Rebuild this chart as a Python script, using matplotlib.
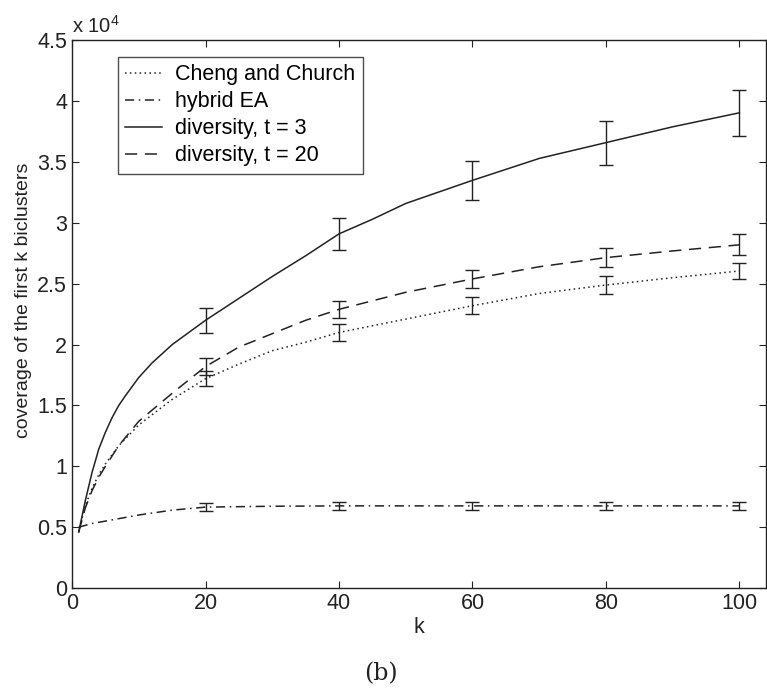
import numpy as np
import matplotlib
matplotlib.use('Agg')
import matplotlib.pyplot as plt
from matplotlib.ticker import FormatStrFormatter

plt.rcParams['font.family'] = ['Liberation Sans', 'DejaVu Sans']

# Coverage values (units of 1e4)
k_cc = [1, 2, 3, 4, 5, 7, 10, 15, 20, 25, 30, 35, 40, 50, 60, 70, 80, 90, 100]
cheng = [0.46, 0.68, 0.82, 0.93, 1.02, 1.17, 1.34, 1.55, 1.72, 1.84, 1.95,
         2.02, 2.10, 2.21, 2.32, 2.42, 2.49, 2.55, 2.605]

k_ea = [1, 3, 5, 10, 15, 20, 30, 40, 60, 80, 100]
hybrid = [0.50, 0.53, 0.55, 0.60, 0.64, 0.665, 0.672, 0.675, 0.675, 0.675, 0.675]

k_d3 = [1, 2, 3, 4, 5, 6, 7, 8, 10, 12, 15, 20, 25, 30, 35, 40, 45, 50, 60,
        70, 80, 90, 100]
div3 = [0.46, 0.72, 0.95, 1.14, 1.28, 1.40, 1.5, 1.58, 1.73, 1.85, 2.0, 2.2,
        2.38, 2.56, 2.73, 2.91, 3.03, 3.16, 3.35, 3.53, 3.66, 3.79, 3.905]

k_d20 = [1, 2, 3, 4, 5, 7, 10, 15, 20, 25, 30, 35, 40, 45, 50, 60, 70, 80,
         90, 100]
div20 = [0.46, 0.66, 0.8, 0.91, 1.0, 1.17, 1.37, 1.6, 1.82, 1.98, 2.09, 2.20,
         2.29, 2.36, 2.43, 2.54, 2.64, 2.715, 2.77, 2.82]

# error bars at k = 20, 40, ..., 100 (half widths)
k_err = [20, 40, 60, 80, 100]
err_cheng = [0.06, 0.07, 0.07, 0.07, 0.065]
err_hybrid = [0.03, 0.03, 0.03, 0.03, 0.03]
err_div3 = [0.105, 0.13, 0.16, 0.18, 0.19]
err_div20 = [0.07, 0.07, 0.075, 0.08, 0.085]

c = '#222222'
fig = plt.figure(figsize=(7.67, 6.88), dpi=100)
ax = fig.add_axes([0.0939, 0.1453, 0.905, 0.796])

series = [
    (k_cc, cheng, err_cheng, (0, (1, 2.2)), 'Cheng and Church'),
    (k_ea, hybrid, err_hybrid, (0, (6, 3, 1, 3)), 'hybrid EA'),
    (k_d3, div3, err_div3, '-', 'diversity, t = 3'),
    (k_d20, div20, err_div20, (0, (8, 5)), 'diversity, t = 20'),
]
for k, v, e, ls, lab in series:
    ax.plot(k, v, color=c, lw=1.1, linestyle=ls, label=lab)
    k = np.array(k)
    v = np.array(v)
    ax.errorbar(k_err, v[np.isin(k, k_err)], yerr=e, fmt='none',
                ecolor=c, elinewidth=1.0, capsize=5, capthick=1.0)

ax.set_xlim(0, 104)
ax.set_ylim(0, 4.5)
ax.set_xticks([0, 20, 40, 60, 80, 100])
ax.set_yticks(np.arange(0, 4.51, 0.5))
ax.yaxis.set_major_formatter(FormatStrFormatter('%g'))
ax.tick_params(direction='in', top=True, right=True, labelsize=15.5,
               length=5, width=0.8, colors=c)
for s in ax.spines.values():
    s.set_linewidth(1.0)
    s.set_color(c)

ax.set_xlabel('k', fontsize=15.5, color=c)
ax.xaxis.set_label_coords(0.5, -0.052)
ax.set_ylabel('coverage of the first k biclusters', fontsize=14, color=c)
ax.yaxis.set_label_coords(-0.0576, 0.526)
ax.text(0.0, 1.006, r'x 10$^{\mathregular{4}}$', transform=ax.transAxes,
        fontsize=14.5, color=c, ha='left', va='bottom')

leg = ax.legend(loc='upper left', bbox_to_anchor=(0.066, 0.970), fontsize=15.5,
                frameon=True, fancybox=False, edgecolor=c, handlelength=1.72,
                labelspacing=0.28, borderpad=0.35, handletextpad=0.6,
                borderaxespad=0)
leg.get_frame().set_linewidth(1.0)

fig.text(0.497, 0.004, '(b)', fontsize=17, family='DejaVu Serif',
         ha='center', va='bottom', color=c)

fig.savefig('out.png', dpi=100)
